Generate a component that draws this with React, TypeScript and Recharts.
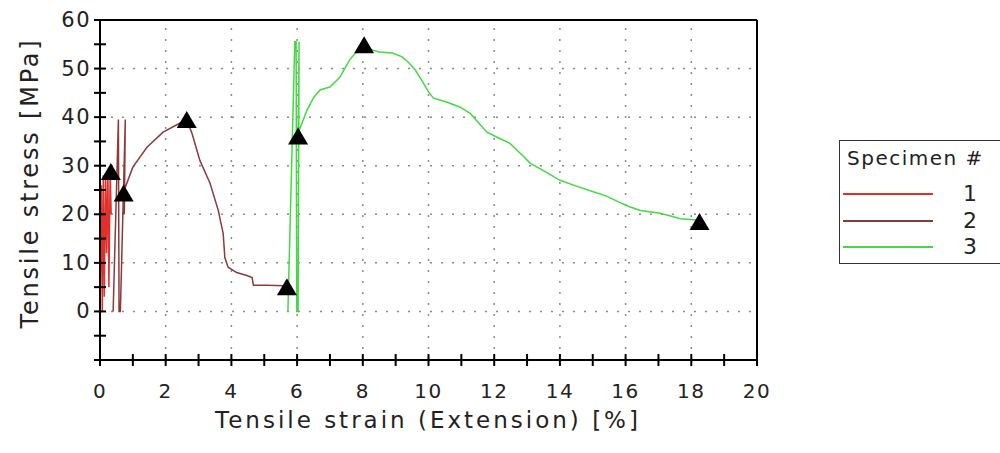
import React from "react";
import {
  ComposedChart,
  Line,
  Scatter,
  XAxis,
  YAxis,
  ReferenceLine,
  Legend,
} from "recharts";

// Tensile strain [%] / tensile stress [MPa] traces
const specimen1X = [0, 0.04, 0.07, 0.1, 0.13, 0.17, 0.2, 0.24, 0.27, 0.31, 0.34];
const specimen1Y = [0, 26, 0, 28, 3, 28.5, 12, 29, 5, 28.7, 20];

const specimen2X = [
  0.4, 0.56, 0.58, 0.62, 0.77, 0.74, 0.7, 1.0, 1.43, 1.92, 2.44, 2.64, 2.8, 3.04,
  3.35, 3.6, 3.75, 3.8, 3.9, 4.16, 4.47, 4.63, 4.67, 5.08, 5.6,
];
const specimen2Y = [
  0, 39.5, 0, 0, 39.5, 20, 24.3, 29.7, 33.8, 36.9, 38.8, 39.4, 36.7, 31.1, 26.4,
  20.8, 16, 11.1, 9.1, 8.0, 7.4, 7.0, 5.4, 5.4, 5.3,
];

const specimen3X = [
  5.72, 5.93, 5.97, 5.99, 6.03, 6.06, 6.05, 6.03, 6.3, 6.5, 6.7, 7.0, 7.3, 7.6,
  7.9, 8.0, 8.2, 8.5, 8.9, 9.2, 9.4, 9.6, 9.8, 10.0, 10.15, 10.55, 10.95, 11.27,
  11.5, 11.78, 12.1, 12.48, 12.8, 13.1, 13.5, 14.0, 14.5, 14.9, 15.4, 15.8, 16.1,
  16.45, 17.05, 17.4, 17.66, 18.17,
];
const specimen3Y = [
  0, 55.5, 55.5, 0, 0, 55.5, 45, 36.7, 41.4, 44, 45.6, 46.2, 48.2, 51.8, 54.2,
  55, 54, 53.4, 53.2, 52.4, 51.2, 49.7, 47.5, 45.2, 43.9, 43.1, 42.1, 40.8, 39,
  36.9, 35.8, 34.6, 32.5, 30.5, 29, 27, 25.8, 24.9, 23.8, 22.5, 21.6, 20.8, 20.2,
  19.6, 19.1, 18.8,
];

// triangle markers
const markerX = [0.33, 0.72, 2.64, 5.69, 6.03, 8.04, 18.25];
const markerY = [28.7, 24.3, 39.4, 5.0, 36.0, 54.8, 18.4];

const xTicks = [0, 1, 2, 3, 4, 5, 6, 7, 8, 9, 10, 11, 12, 13, 14, 15, 16, 17, 18, 19, 20];
const yTicks = [-10, -5, 0, 5, 10, 15, 20, 25, 30, 35, 40, 45, 50, 55, 60];
const xGrid = [2, 4, 6, 8, 10, 12, 14, 16, 18];
const yGrid = [0, 10, 20, 30, 40, 50];

const seriesNames = ["1", "2", "3"];
const seriesColors = ["#e0302c", "#8a3b3b", "#44d944"];

const zip = (xs: number[], ys: number[]) => xs.map((x, i) => ({ x, y: ys[i] }));

const FONT = "'DejaVu Sans', Verdana, sans-serif";

const XTick = (props: any) => {
  const { x, y, payload } = props;
  const v = payload.value;
  return (
    <g>
      <line x1={x} x2={x} y1={y - 6} y2={y + 6} stroke="#000" strokeWidth={2} />
      {v % 2 === 0 && (
        <text x={x} y={y + 31} textAnchor="middle" dominantBaseline="central" fontSize={20} letterSpacing={1.5} fill="#222" fontFamily={FONT}>
          {v}
        </text>
      )}
    </g>
  );
};

const YTick = (props: any) => {
  const { x, y, payload } = props;
  const v = payload.value;
  return (
    <g>
      <line x1={x - 6} x2={x + 6} y1={y} y2={y} stroke="#000" strokeWidth={2} />
      {v >= 0 && v % 10 === 0 && (
        <text x={x - 9} y={y} textAnchor="end" dominantBaseline="central" fontSize={21} letterSpacing={1.5} fill="#222" fontFamily={FONT}>
          {v}
        </text>
      )}
    </g>
  );
};

const Triangle = (props: any) => {
  const { cx, cy } = props;
  return <polygon points={`${cx - 10},${cy + 8} ${cx + 10},${cy + 8} ${cx},${cy - 9}`} fill="#000" />;
};

const LegendBox = () => (
  <div
    style={{
      border: "1.5px solid #333",
      width: 175,
      height: 124,
      boxSizing: "border-box",
      fontFamily: FONT,
      color: "#222",
      position: "relative",
    }}
  >
    <div style={{ position: "absolute", left: 7, top: 5, fontSize: 20, letterSpacing: 1.5 }}>Specimen #</div>
    {seriesNames.map((n, i) => (
      <div key={n}>
        <div
          style={{
            position: "absolute",
            left: 3,
            top: 52 + i * 26.7,
            width: 90,
            height: 2,
            background: seriesColors[i],
          }}
        />
        <div style={{ position: "absolute", left: 123, top: 40 + i * 26.7, fontSize: 22 }}>{n}</div>
      </div>
    ))}
  </div>
);

export default function App() {
  return (
    <div style={{ position: "absolute", left: 0, top: 0, width: 1000, height: 453, background: "#fff" }}>
      <ComposedChart
        width={1000}
        height={453}
        margin={{ top: 20, right: 68, bottom: 63, left: 40 }}
      >
        <XAxis
          dataKey="x"
          type="number"
          domain={[0, 20]}
          ticks={xTicks}
          interval={0}
          tickSize={0}
          tickMargin={0}
          height={30}
          tick={<XTick />}
          axisLine={{ stroke: "#000", strokeWidth: 2 }}
          tickLine={false}
          allowDataOverflow
        />
        <YAxis
          dataKey="y"
          type="number"
          domain={[-10, 60]}
          ticks={yTicks}
          interval={0}
          tickSize={0}
          tickMargin={0}
          width={60}
          tick={<YTick />}
          axisLine={{ stroke: "#000", strokeWidth: 2 }}
          tickLine={false}
          allowDataOverflow
        />
        {xGrid.map((v) => (
          <ReferenceLine key={"gx" + v} x={v} stroke="#8a8a8a" strokeWidth={1.5} strokeDasharray="2 9" />
        ))}
        {yGrid.map((v) => (
          <ReferenceLine key={"gy" + v} y={v} stroke="#8a8a8a" strokeWidth={1.5} strokeDasharray="2 9" />
        ))}
        <ReferenceLine y={60} stroke="#000" strokeWidth={2} />
        <ReferenceLine x={20} stroke="#000" strokeWidth={2} />
        <Line
          data={zip(specimen1X, specimen1Y)}
          dataKey="y"
          name={seriesNames[0]}
          stroke={seriesColors[0]}
          strokeWidth={1.5}
          dot={false}
          type="linear"
          isAnimationActive={false}
        />
        <Line
          data={zip(specimen2X, specimen2Y)}
          dataKey="y"
          name={seriesNames[1]}
          stroke={seriesColors[1]}
          strokeWidth={1.5}
          dot={false}
          type="linear"
          isAnimationActive={false}
        />
        <Line
          data={zip(specimen3X, specimen3Y)}
          dataKey="y"
          name={seriesNames[2]}
          stroke={seriesColors[2]}
          strokeWidth={1.5}
          dot={false}
          type="linear"
          isAnimationActive={false}
        />
        <Scatter
          data={zip(markerX, markerY)}
          dataKey="y"
          shape={<Triangle />}
          legendType="none"
          isAnimationActive={false}
        />
        <Legend
          layout="vertical"
          align="right"
          verticalAlign="middle"
          content={() => <LegendBox />}
          wrapperStyle={{ position: "absolute", left: 839, top: 140, width: 175, height: 124 }}
        />
        <text x={428} y={420} textAnchor="middle" dominantBaseline="central" fontSize={23} letterSpacing={3} fill="#222" fontFamily={FONT}>
          Tensile strain (Extension) [%]
        </text>
        <text
          x={30}
          y={183}
          textAnchor="middle"
          dominantBaseline="central"
          fontSize={24}
          letterSpacing={2.8}
          fill="#222"
          fontFamily={FONT}
          transform="rotate(-90 30 183)"
        >
          Tensile stress [MPa]
        </text>
      </ComposedChart>
    </div>
  );
}
